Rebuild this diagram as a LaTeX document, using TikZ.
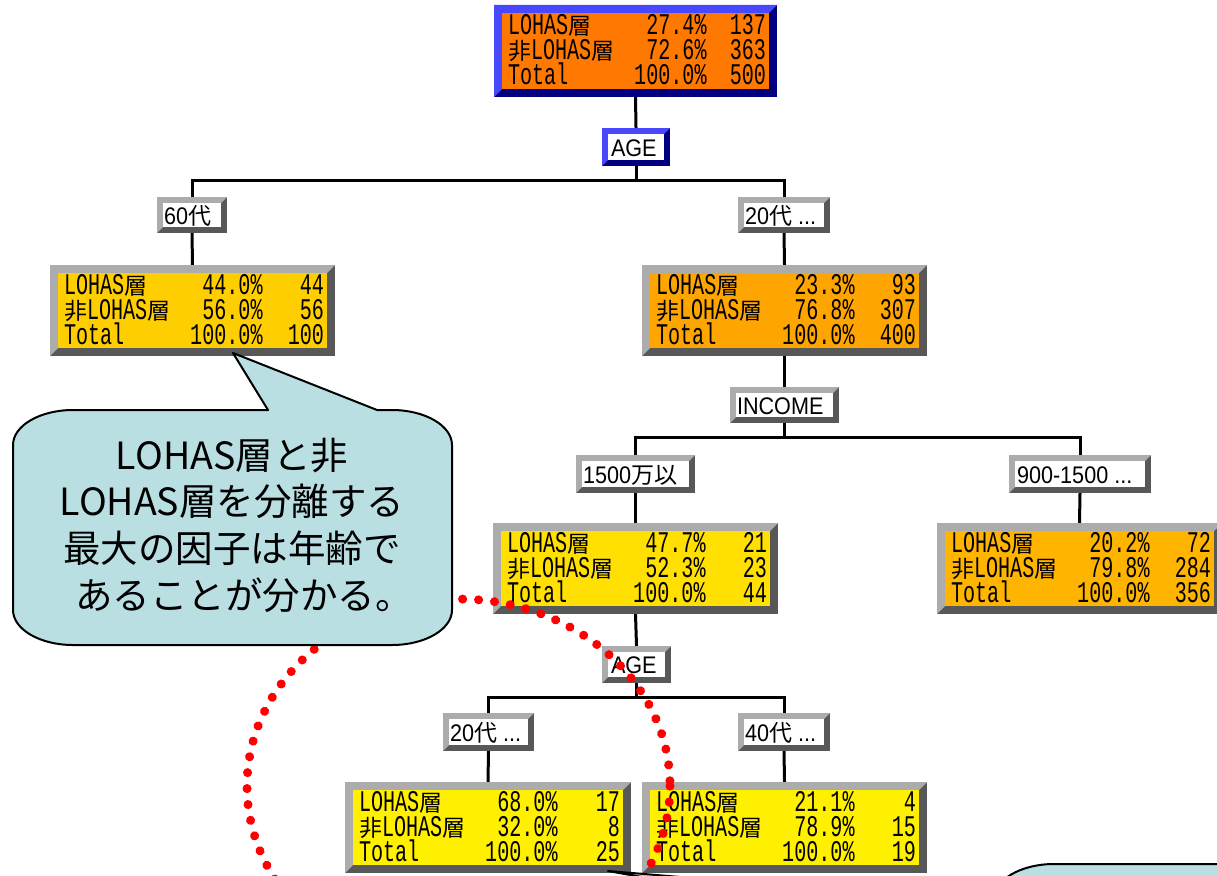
\documentclass[tikz,border=0pt]{standalone}
\usepackage{fontspec}
\newfontfamily\tmono[FakeStretch=0.67]{Liberation Mono}
\newfontfamily\tcjkf{Noto Sans CJK JP}
\newfontfamily\lsans[FakeStretch=0.9]{Liberation Sans}
\usetikzlibrary{calc,fit}
\definecolor{bluelt}{RGB}{72,72,255}
\definecolor{bluedk}{RGB}{0,0,128}
\definecolor{graylt}{RGB}{172,172,172}
\definecolor{graydk}{RGB}{88,88,88}
\definecolor{ftop}{RGB}{255,120,0}
\definecolor{f60}{RGB}{255,206,0}
\definecolor{f20}{RGB}{255,165,0}
\definecolor{f1500}{RGB}{255,224,0}
\definecolor{f900}{RGB}{255,180,0}
\definecolor{fbot}{RGB}{255,240,0}
\definecolor{cfill}{RGB}{185,223,227}
\newcommand\tk[1]{{\tcjkf\fontsize{23}{23}\selectfont #1}}
\newcommand\lk[1]{{\tcjkf\fontsize{23}{23}\selectfont #1}}
% three lines with a fixed pitch of 25pt; #1 = width (0pt = natural), lines #2 #3 #4
\newcommand\threeL[3]{\vtop{\baselineskip=25pt\lineskiplimit=-100pt\lineskip=0pt
  \hbox{#1}\hbox{#2}\hbox{#3}}}
\newcommand\threeR[4]{\vtop{\baselineskip=25pt\lineskiplimit=-100pt\lineskip=0pt
  \hbox to #1{\hfil #2}\hbox to #1{\hfil #3}\hbox to #1{\hfil #4}}}
% bevelled box: name x1 y1 x2 y2 light dark face bevel
\newcommand\bbox[9]{%
  \fill[#7] (#2,#3) rectangle (#4,#5);
  \fill[#6] (#2,#3) -- (#4,#3) -- ({#4-#9},{#3+#9}) -- ({#2+#9},{#3+#9}) -- ({#2+#9},{#5-#9}) -- (#2,#5) -- cycle;
  \fill[#8] ({#2+#9},{#3+#9}) rectangle ({#4-#9},{#5-#9});
  \coordinate (#1-p) at (#2,#3);
  \coordinate (#1-q) at (#4,#5);
  \node[fit=(#1-p)(#1-q), inner sep=0pt] (#1) {};
}
% texts of a tree node: name p1 n1 p2 n2 n3
\newcommand\trows[6]{%
  \node[tt,anchor=base west] (#1-lab) at ($(#1.north west)+(14,30)$)
    {\threeL{LOHAS\tk{層}}{\tk{非}LOHAS\tk{層}}{Total}};
  \node[tt,anchor=base east] (#1-pct) at ($(#1.north west)+(213,30)$)
    {\threeR{90pt}{#2\%}{#4\%}{100.0\%}};
  \node[tt,anchor=base east] (#1-cnt) at ($(#1.north east)+(-11,30)$)
    {\threeR{44pt}{#3}{#5}{#6}};
}
\tikzset{
  tt/.style={inner sep=0pt, font=\tmono\fontsize{30}{30}\selectfont},
  lab/.style={inner sep=0pt, anchor=base west, font=\lsans\fontsize{24}{24}\selectfont},
  conn/.style={line width=3pt, black},
  callout/.style={fill=cfill, draw=black, line width=2pt, line join=round},
  dots/.style={red, line width=9pt, line cap=round, dash pattern=on 0.1pt off 15.9pt}
}
\begin{document}
\begin{tikzpicture}[x=1pt,y=-1pt]
\clip (0,0) rectangle (1217,875);
\fill[white] (0,0) rectangle (1217,875);

% boxes
\bbox{top}{494}{5}{777}{97}{bluelt}{bluedk}{ftop}{8}
\bbox{age1}{602}{128}{670}{166}{bluelt}{bluedk}{white}{6}
\bbox{l60}{157}{197}{227}{233}{graylt}{graydk}{white}{6}
\bbox{l20a}{738}{197}{830}{233}{graylt}{graydk}{white}{6}
\bbox{n60}{50}{265}{335}{356}{graylt}{graydk}{f60}{8}
\bbox{n20}{642}{265}{927}{356}{graylt}{graydk}{f20}{8}
\bbox{income}{730}{387}{839}{423}{graylt}{graydk}{white}{6}
\bbox{l1500}{576}{455}{695}{493}{graylt}{graydk}{white}{6}
\bbox{l900}{1009}{455}{1151}{493}{graylt}{graydk}{white}{6}
\bbox{n1500}{493}{523}{778}{614}{graylt}{graydk}{f1500}{8}
\bbox{n900}{937}{523}{1222}{614}{graylt}{graydk}{f900}{8}
\bbox{age2}{602}{646}{671}{683}{graylt}{graydk}{white}{6}
\bbox{l20b}{443}{713}{534}{751}{graylt}{graydk}{white}{6}
\bbox{l40}{738}{713}{830}{751}{graylt}{graydk}{white}{6}
\bbox{n20b}{345}{782}{631}{873}{graylt}{graydk}{fbot}{8}
\bbox{n40}{642}{782}{927}{873}{graylt}{graydk}{fbot}{8}

% connectors
\draw[conn] (top.south) -- (age1.north);
\draw[conn] (age1.south) -- ++(0,14) -| (l60.north);
\draw[conn] (age1.south) -- ++(0,14) -| (l20a.north);
\draw[conn] (l60.south) -- (n60.north);
\draw[conn] (l20a.south) -- (n20.north);
\draw[conn] (n20.south) -- (income.north);
\draw[conn] (income.south) -- ++(0,14) -| (l1500.north);
\draw[conn] (income.south) -- ++(0,14) -| (l900.north);
\draw[conn] (l1500.south) -- (n1500.north);
\draw[conn] (l900.south) -- (n900.north);
\draw[conn] (n1500.south) -- (age2.north);
\draw[conn] (age2.south) -- ++(0,14) -| (l20b.north);
\draw[conn] (age2.south) -- ++(0,14) -| (l40.north);
\draw[conn] (l20b.south) -- (n20b.north);
\draw[conn] (l40.south) -- (n40.north);

% label texts
\node[lab] (t-age1) at ($(age1.west)+(9,9)$) {AGE};
\node[lab] (t-l60) at ($(l60.west)+(7,9)$) {60\lk{代}};
\node[lab] (t-l20a) at ($(l20a.west)+(7,9)$) {20\lk{代} ...};
\node[lab] (t-income) at ($(income.west)+(7,9)$) {INCOME};
\node[lab] (t-l1500) at ($(l1500.west)+(7,9)$) {1500\lk{万以}};
\node[lab] (t-l900) at ($(l900.west)+(8,9)$) {900-1500 ...};
\node[lab] (t-age2) at ($(age2.west)+(9,9)$) {AGE};
\node[lab] (t-l20b) at ($(l20b.west)+(7,9)$) {20\lk{代} ...};
\node[lab] (t-l40) at ($(l40.west)+(7,9)$) {40\lk{代} ...};

% node texts
\trows{top}{27.4}{137}{72.6}{363}{500}
\trows{n60}{44.0}{44}{56.0}{56}{100}
\trows{n20}{23.3}{93}{76.8}{307}{400}
\trows{n1500}{47.7}{21}{52.3}{23}{44}
\trows{n900}{20.2}{72}{79.8}{284}{356}
\trows{n20b}{68.0}{17}{32.0}{8}{25}
\trows{n40}{21.1}{4}{78.9}{15}{19}

% dotted ellipse
\draw[dots] (458.5,786) ellipse [x radius=211.5, y radius=187];

% left callout
\draw[callout] (73,410) -- (268,410) -- (233,353) -- (377,410) -- (392,410)
  .. controls (425.1,410) and (452,425.7) .. (452,445)
  -- (452,610) .. controls (452,629.3) and (425.1,645) .. (392,645)
  -- (73,645) .. controls (39.9,645) and (13,629.3) .. (13,610)
  -- (13,445) .. controls (13,425.7) and (39.9,410) .. (73,410) -- cycle;
\node[font=\tcjkf\fontsize{37.5}{46.7}\selectfont, align=center, inner sep=0pt] (ctext) at (232,525)
  {LOHAS層と非\\LOHAS層を分離する\\最大の因子は年齢で\\あることが分かる\makebox[14pt][l]{。}};

% bottom-right callout (partly visible)
\draw[callout] (1054,864) -- (1300,864) -- (1300,1000) -- (994,1000) -- (994,940)
  -- (608,871) -- (994,903) -- (994,899)
  .. controls (994,879.7) and (1020.9,864) .. (1054,864) -- cycle;
\end{tikzpicture}
\end{document}
